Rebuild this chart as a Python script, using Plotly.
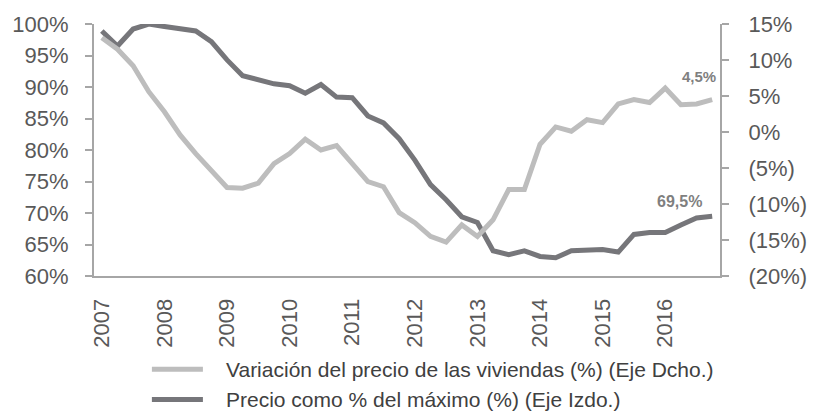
import plotly.graph_objects as go

# Quarterly periods, 2007 Q1 - 2016 Q4
years = [str(y) for y in range(2007, 2017)]
periods = [f"{y} T{q}" for y in years for q in range(1, 5)]

# Price as % of the peak (left axis)
precio_max = [
    98.9, 96.5, 99.2, 100.0, 99.6, 99.2, 98.9, 97.2, 94.3, 91.8,
    91.25, 90.5, 90.2, 89.0, 90.4, 88.4, 88.3, 85.4, 84.3, 81.8,
    78.4, 74.5, 72.1, 69.4, 68.5, 64.0, 63.4, 64.0, 63.1, 62.9,
    64.0, 64.1, 64.2, 63.8, 66.6, 66.9, 66.9, 68.1, 69.2, 69.5,
]

# Year-on-year change in house prices (right axis)
variacion = [
    13.1, 11.5, 9.2, 5.6, 2.8, -0.4, -3.0, -5.3, -7.7, -7.8,
    -7.1, -4.4, -3.0, -1.0, -2.5, -1.9, -4.3, -6.9, -7.6, -11.2,
    -12.6, -14.5, -15.3, -12.9, -14.5, -12.2, -8.0, -8.0, -1.7, 0.7,
    0.1, 1.7, 1.3, 3.9, 4.5, 4.1, 6.1, 3.8, 3.9, 4.5,
]

left_ticks = [60, 65, 70, 75, 80, 85, 90, 95, 100]
left_text = [f"{v}%" for v in left_ticks]
right_ticks = [-20, -15, -10, -5, 0, 5, 10, 15]
right_text = [f"({-v}%)" if v < 0 else f"{v}%" for v in right_ticks]

name_var = "Variación del precio de las viviendas (%) (Eje Dcho.)"
name_max = "Precio como % del máximo (%) (Eje Izdo.)"

LIGHT = "#BDBDBD"
DARK = "#76767A"
AXIS = "#A6A6A6"
FONT = "Liberation Sans, Arial, sans-serif"

W, H = 819, 419
ML, MR, MT, MB = 94, 87, 19, 143
plot_h = H - MT - MB


def py(ypx):
    """Convert a pixel row to paper y coordinate."""
    return (H - MB - ypx) / plot_h


def px(xpx):
    return (xpx - ML) / (W - ML - MR)


fig = go.Figure()
fig.add_trace(go.Scatter(
    x=periods, y=variacion, name=name_var, yaxis="y2", mode="lines",
    line=dict(color=LIGHT, width=5), showlegend=False,
))
fig.add_trace(go.Scatter(
    x=periods, y=precio_max, name=name_max, yaxis="y", mode="lines",
    line=dict(color=DARK, width=5), showlegend=False,
))

# End-of-series value labels
fig.add_annotation(x=periods[-1], y=variacion[-1], yref="y2",
                   text=f"{variacion[-1]:.1f}%".replace(".", ","),
                   showarrow=False, xshift=-13, yshift=23,
                   font=dict(family=FONT, size=15, color="#7F7F7F", weight="bold"))
fig.add_annotation(x=periods[-1], y=precio_max[-1], yref="y",
                   text=f"{precio_max[-1]:.1f}%".replace(".", ","),
                   showarrow=False, xshift=-33, yshift=15,
                   font=dict(family=FONT, size=16, color="#7F7F7F", weight="bold"))

# Legend drawn below the axis
legend_items = [(name_var, LIGHT, 371), (name_max, DARK, 402)]
for label, color, ypx in legend_items:
    fig.add_shape(type="line", xref="paper", yref="paper",
                  x0=px(153), x1=px(205), y0=py(ypx), y1=py(ypx),
                  line=dict(color=color, width=5))
    fig.add_annotation(xref="paper", yref="paper", x=px(227), y=py(ypx),
                       text=label, showarrow=False, xanchor="left", yanchor="middle",
                       font=dict(family=FONT, size=21, color="#404040"))

fig.update_layout(
    width=W, height=H,
    margin=dict(l=ML, r=MR, t=MT, b=MB),
    paper_bgcolor="white", plot_bgcolor="white",
    font=dict(family=FONT, color="#595959"),
    xaxis=dict(
        type="category", tickmode="array",
        tickvals=[f"{y} T1" for y in years], ticktext=years,
        tickangle=-90, showgrid=False, zeroline=False,
        showline=True, linecolor=AXIS, linewidth=2, ticks="",
        tickfont=dict(size=22, color="#595959"), ticklabelstandoff=12,
        range=[-0.5, len(periods) - 0.5],
    ),
    yaxis=dict(
        range=[60, 100], tickmode="array", tickvals=left_ticks, ticktext=left_text,
        showgrid=False, zeroline=False, showline=True, linecolor=AXIS, linewidth=2,
        ticks="outside", ticklen=7, tickcolor=AXIS, tickwidth=2,
        tickfont=dict(size=22, color="#595959"), ticklabelstandoff=12,
    ),
    yaxis2=dict(
        range=[-20, 15], overlaying="y", side="right", anchor="x",
        tickmode="array", tickvals=right_ticks, ticktext=right_text,
        showgrid=False, zeroline=False, showline=True, linecolor=AXIS, linewidth=2,
        ticks="outside", ticklen=7, tickcolor=AXIS, tickwidth=2,
        tickfont=dict(size=22, color="#595959"), ticklabelstandoff=15,
    ),
)

fig.write_html("out.html")
